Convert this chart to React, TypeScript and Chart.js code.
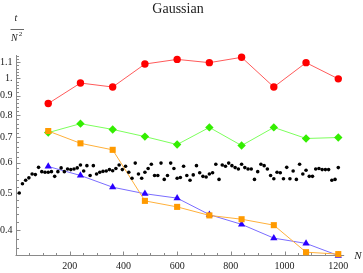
import React, { useEffect, useRef } from 'react';
import { Chart, registerables } from 'chart.js';

Chart.register(...registerables);

const SERIF = '"Liberation Serif", "Times New Roman", serif';

// Series abscissas (N)
const N_SERIES = [120, 240, 360, 480, 600, 720, 840, 960, 1080, 1200];
const redValues = [0.858, 0.971, 0.948, 1.089, 1.12, 1.098, 1.134, 0.948, 1.098, 0.996];
const greenValues = [0.72, 0.76, 0.734, 0.703, 0.67, 0.743, 0.666, 0.743, 0.695, 0.699];
const orangeValues = [0.727, 0.675, 0.649, 0.477, 0.46, 0.437, 0.427, 0.412, 0.35, 0.346];
const blueValues = [0.587, 0.556, 0.518, 0.498, 0.485, 0.439, 0.414, 0.381, 0.369, 0.343];

const N_DOTS = [
  12, 24, 36, 48, 60, 72, 84, 96, 108, 120,
  132, 144, 156, 168, 180, 192, 204, 216, 228, 240,
  252, 264, 276, 288, 300, 312, 324, 336, 348, 360,
  372, 384, 396, 408, 420, 432, 444, 456, 468, 480,
  492, 504, 516, 528, 540, 552, 564, 576, 588, 600,
  612, 624, 636, 648, 660, 672, 684, 696, 708, 720,
  732, 744, 756, 768, 780, 792, 804, 816, 828, 840,
  852, 864, 876, 888, 900, 912, 924, 936, 948, 960,
  972, 984, 996, 1008, 1020, 1032, 1044, 1056, 1068, 1080,
  1092, 1104, 1116, 1128, 1140, 1152, 1164, 1176, 1188, 1200,
];
const blackValues = [
  0.5, 0.529, 0.54, 0.548, 0.561, 0.559, 0.584, 0.569, 0.567, 0.567,
  0.569, 0.553, 0.569, 0.582, 0.569, 0.578, 0.576, 0.578, 0.582, 0.592,
  0.571, 0.59, 0.556, 0.59, 0.561, 0.567, 0.57, 0.571, 0.576, 0.572,
  0.58, 0.592, 0.576, 0.588, 0.567, 0.547, 0.599, 0.561, 0.547, 0.567,
  0.58, 0.595, 0.556, 0.556, 0.599, 0.543, 0.556, 0.599, 0.58, 0.547,
  0.549, 0.588, 0.556, 0.54, 0.558, 0.59, 0.565, 0.553, 0.551, 0.561,
  0.565, 0.595, 0.543, 0.592, 0.588, 0.599, 0.59, 0.583, 0.578, 0.595,
  0.583, 0.578, 0.578, 0.543, 0.569, 0.595, 0.59, 0.578, 0.556, 0.545,
  0.567, 0.565, 0.545, 0.584, 0.545, 0.571, 0.543, 0.595, 0.561, 0.574,
  0.553, 0.553, 0.578, 0.58, 0.576, 0.576, 0.576, 0.54, 0.543, 0.583,
];

// Axes / ticks
const X_MIN = 0;
const X_MAX = 1266;
const X_AXIS_END = 1222;
const X_TICKS = [200, 400, 600, 800, 1000, 1200];
const X_TICK_LABELS = ['200', '400', '600', '800', '1000', '1200'];
const X_MINOR_TICKS = [50, 100, 150, 250, 300, 350, 450, 500, 550, 650, 700, 750, 850, 900, 950, 1050, 1100, 1150];

const Y_MIN = 0.344;
const Y_MAX = 1.15;
const Y_TICKS = [0.4, 0.5, 0.6, 0.7, 0.8, 0.9, 1.0, 1.1];
const Y_TICK_LABELS = ['0.4', '0.5', '0.6', '0.7', '0.8', '0.9', '1.', '1.1'];
const Y_MINOR_TICKS = [
  0.36, 0.38, 0.42, 0.44, 0.46, 0.48, 0.52, 0.54, 0.56, 0.58, 0.62, 0.64, 0.66, 0.68,
  0.72, 0.74, 0.76, 0.78, 0.82, 0.84, 0.86, 0.88, 0.92, 0.94, 0.96, 0.98,
  1.02, 1.04, 1.06, 1.08, 1.12, 1.14,
];

const AXIS_COLOR = '#8a8a8a';
const TEXT_COLOR = '#222222';

function pts(xs: number[], ys: number[]) {
  return xs.map((x, i) => ({ x, y: ys[i] }));
}

export default function App() {
  const ref = useRef<HTMLCanvasElement>(null);

  useEffect(() => {
    const canvas = ref.current!;

    const axesPlugin = {
      id: 'mmaAxes',
      beforeDatasetsDraw(chart: any) {
        const { ctx, chartArea } = chart;
        const xs = chart.scales.x;
        const ys = chart.scales.y;
        const x0 = Math.round(xs.getPixelForValue(0)) + 0.5;
        const y0 = Math.round(ys.getPixelForValue(Y_MIN)) + 0.5;
        const xEnd = xs.getPixelForValue(X_AXIS_END);
        ctx.save();
        ctx.strokeStyle = AXIS_COLOR;
        ctx.lineWidth = 1;
        ctx.beginPath();
        ctx.moveTo(x0 - 1, y0);
        ctx.lineTo(xEnd, y0);
        ctx.moveTo(x0, y0);
        ctx.lineTo(x0, chartArea.top);
        for (const v of X_TICKS) {
          const p = Math.round(xs.getPixelForValue(v)) + 0.5;
          ctx.moveTo(p, y0);
          ctx.lineTo(p, y0 - 4);
        }
        for (const v of X_MINOR_TICKS) {
          const p = Math.round(xs.getPixelForValue(v)) + 0.5;
          ctx.moveTo(p, y0);
          ctx.lineTo(p, y0 - 2.5);
        }
        for (const v of Y_TICKS) {
          const p = Math.round(ys.getPixelForValue(v)) + 0.5;
          ctx.moveTo(x0, p);
          ctx.lineTo(x0 + 4, p);
        }
        for (const v of Y_MINOR_TICKS) {
          const p = Math.round(ys.getPixelForValue(v)) + 0.5;
          ctx.moveTo(x0, p);
          ctx.lineTo(x0 + 2.5, p);
        }
        ctx.stroke();
        ctx.restore();
      },
      afterDraw(chart: any) {
        const { ctx } = chart;
        const xs = chart.scales.x;
        const ys = chart.scales.y;
        const y0 = ys.getPixelForValue(Y_MIN);
        const xEnd = xs.getPixelForValue(X_AXIS_END);
        ctx.save();
        ctx.fillStyle = TEXT_COLOR;
        ctx.textBaseline = 'alphabetic';
        ctx.textAlign = 'left';
        // x axis label
        ctx.font = `italic 11px ${SERIF}`;
        ctx.fillText('N', xEnd + 10, y0 + 3.5);
        // y axis label: t / N^2
        ctx.font = `italic 10px ${SERIF}`;
        ctx.fillText('t', 14.5, 20.5);
        ctx.fillText('N', 11, 40.5);
        ctx.font = `7px ${SERIF}`;
        ctx.fillText('2', 18.7, 36);
        ctx.strokeStyle = '#444';
        ctx.lineWidth = 0.8;
        ctx.beginPath();
        ctx.moveTo(10.5, 29.5);
        ctx.lineTo(24, 29.5);
        ctx.stroke();
        ctx.restore();
      },
    };

    const lineDs = (label: string, data: any[], line: string, marker: string, style: string, radius: number) => ({
      label,
      data,
      showLine: true,
      borderColor: line,
      borderWidth: 1,
      backgroundColor: marker,
      pointBackgroundColor: marker,
      pointBorderColor: marker,
      pointBorderWidth: 0,
      pointStyle: style,
      pointRadius: radius,
      tension: 0,
      clip: false,
    });

    const chart = new Chart(canvas, {
      type: 'scatter',
      data: {
        datasets: [
          {
            label: 'dots',
            data: pts(N_DOTS, blackValues),
            showLine: false,
            backgroundColor: '#000',
            pointBackgroundColor: '#000',
            pointBorderColor: '#000',
            pointBorderWidth: 0,
            pointRadius: 1.8,
            clip: false,
          } as any,
          lineDs('orange', pts(N_SERIES, orangeValues), '#ffb03a', '#ff9a00', 'rect', 4.3),
          lineDs('blue', pts(N_SERIES, blueValues), '#7a6cff', '#2a00ff', 'triangle', 4.2),
          lineDs('green', pts(N_SERIES, greenValues), '#7cff5c', '#33ee00', 'rectRot', 4.2),
          lineDs('red', pts(N_SERIES, redValues), '#ff5a5a', '#ff0000', 'circle', 3.7),
        ],
      },
      options: {
        animation: false,
        responsive: false,
        devicePixelRatio: 1,
        events: [],
        layout: { padding: { left: 0, right: 7, top: 0, bottom: 0 } },
        plugins: {
          legend: { display: false },
          tooltip: { enabled: false },
          title: {
            display: true,
            text: 'Gaussian',
            color: TEXT_COLOR,
            font: { family: SERIF, size: 14, weight: 'normal', lineHeight: 1.2 },
            padding: { top: 1, bottom: 37.2 },
          },
        },
        scales: {
          x: {
            type: 'linear',
            min: X_MIN,
            max: X_MAX,
            grid: { display: false, drawTicks: false, tickLength: 0 },
            border: { display: false },
            afterFit: (s: any) => {
              s.height = 16;
            },
            afterBuildTicks: (s: any) => {
              s.ticks = X_TICKS.map((v) => ({ value: v }));
            },
            ticks: {
              autoSkip: false,
              maxRotation: 0,
              padding: 3.5,
              color: TEXT_COLOR,
              font: { family: SERIF, size: 10 },
              callback: (_v: any, i: number) => X_TICK_LABELS[i],
            },
          },
          y: {
            type: 'logarithmic',
            min: Y_MIN,
            max: Y_MAX,
            grid: { display: false, drawTicks: false, tickLength: 0 },
            border: { display: false },
            afterFit: (s: any) => {
              s.width = 16;
            },
            afterBuildTicks: (s: any) => {
              s.ticks = Y_TICKS.map((v) => ({ value: v }));
            },
            ticks: {
              autoSkip: false,
              padding: 3.5,
              color: TEXT_COLOR,
              font: { family: SERIF, size: 10 },
              callback: (_v: any, i: number) => Y_TICK_LABELS[i],
            },
          },
        },
      } as any,
      plugins: [axesPlugin],
    });

    return () => chart.destroy();
  }, []);

  return (
    <div style={{ position: 'fixed', left: 0, top: 0, width: 363, height: 273, background: '#fff' }}>
      <canvas ref={ref} width={363} height={273} style={{ display: 'block' }} />
    </div>
  );
}
